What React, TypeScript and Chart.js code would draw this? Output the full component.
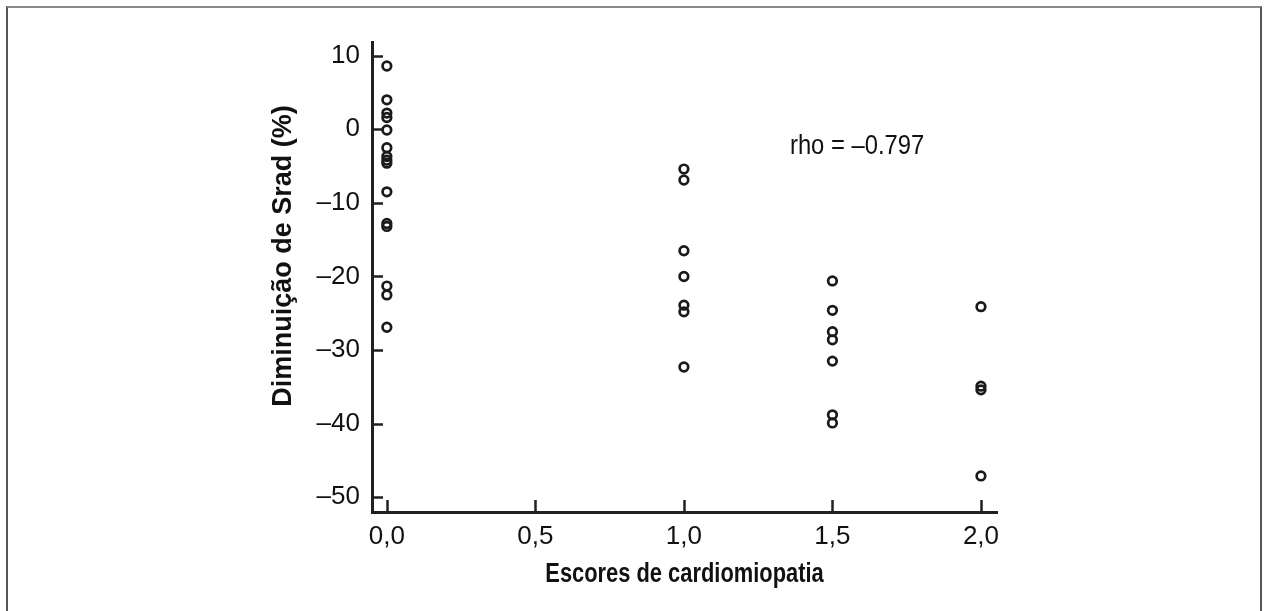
import React, { useEffect, useRef } from "react";
import { Chart, registerables } from "chart.js";

Chart.register(...registerables);

// ---- data ----
const categories = [0, 1, 1.5, 2];
const score00 = [8.6, 4.0, 2.2, 1.6, -0.1, -2.5, -3.7, -4.2, -4.6, -8.5, -12.8, -13.2, -21.3, -22.5, -26.9];
const score10 = [-5.4, -6.9, -16.5, -20.0, -23.9, -24.8, -32.3];
const score15 = [-20.6, -24.6, -27.5, -28.6, -31.5, -38.8, -39.9];
const score20 = [-24.1, -34.9, -35.4, -47.1];
const seriesValues = [score00, score10, score15, score20];

const xTicks = [0, 0.5, 1, 1.5, 2];
const xTickLabels = ["0,0", "0,5", "1,0", "1,5", "2,0"];
const yTicks = [10, 0, -10, -20, -30, -40, -50];
const yTickLabels = ["10", "0", "\u201310", "\u201320", "\u201330", "\u201340", "\u201350"];

const xTitle = "Escores de cardiomiopatia";
const yTitle = "Diminui\u00e7\u00e3o de Srad (%)";
const rhoText = "rho = \u20130.797";
const rhoPos = { x: 1.357, y: -2.3 };

const AXIS = "#231f20";
const SANS = "'Liberation Sans', Arial, Helvetica, sans-serif";

function condensedText(ctx: CanvasRenderingContext2D, text: string, x: number, y: number, sx: number, align: CanvasTextAlign) {
  ctx.save();
  ctx.translate(x, y);
  ctx.scale(sx, 1);
  ctx.textAlign = align;
  ctx.fillText(text, 0, 0);
  ctx.restore();
}

export default function App() {
  const ref = useRef<HTMLCanvasElement | null>(null);

  useEffect(() => {
    document.body.style.margin = "0";
    const canvas = ref.current;
    if (!canvas) return;

    const points: { x: number; y: number }[] = [];
    categories.forEach((c, i) => seriesValues[i].forEach((v) => points.push({ x: c, y: v })));

    const extras = {
      id: "extras",
      afterDraw(chart: any) {
        const { ctx, chartArea, scales } = chart;
        const x = scales.x;
        const y = scales.y;
        ctx.save();
        ctx.strokeStyle = AXIS;
        ctx.lineWidth = 2.5;
        yTicks.forEach((v) => {
          const py = Math.round(y.getPixelForValue(v)) + 0.5;
          ctx.beginPath();
          ctx.moveTo(chartArea.left, py);
          ctx.lineTo(chartArea.left + 11, py);
          ctx.stroke();
        });
        xTicks.forEach((v) => {
          const px = Math.round(x.getPixelForValue(v)) + 0.5;
          ctx.beginPath();
          ctx.moveTo(px, chartArea.bottom);
          ctx.lineTo(px, chartArea.bottom - 12);
          ctx.stroke();
        });
        ctx.fillStyle = "#111";
        ctx.textBaseline = "middle";
        ctx.font = `28px ${SANS}`;
        condensedText(ctx, rhoText, x.getPixelForValue(rhoPos.x), y.getPixelForValue(rhoPos.y), 0.85, "left");

        ctx.font = `bold 27px ${SANS}`;
        condensedText(ctx, xTitle, (chartArea.left + chartArea.right) / 2, 575, 0.81, "center");

        ctx.font = `bold 27px ${SANS}`;
        ctx.textAlign = "center";
        ctx.translate(284, 256);
        ctx.rotate(-Math.PI / 2);
        ctx.fillText(yTitle, 0, 0);
        ctx.restore();
      },
    };

    const chart = new Chart(canvas, {
      type: "scatter",
      data: {
        datasets: [
          {
            data: points,
            pointStyle: "circle",
            pointRadius: 4.3,
            pointHoverRadius: 4.3,
            pointBorderWidth: 2.7,
            borderColor: "#1a1a1a",
            backgroundColor: "rgba(0,0,0,0)",
          },
        ],
      },
      options: {
        animation: false,
        responsive: false,
        events: [],
        layout: { padding: { left: 0, right: 1264 - 997, top: 42, bottom: 0 } },
        plugins: { legend: { display: false }, tooltip: { enabled: false } },
        scales: {
          x: {
            type: "linear",
            min: -0.05,
            max: 2.054,
            grid: { display: false, drawTicks: false },
            border: { display: true, color: AXIS, width: 3 },
            afterBuildTicks: (s: any) => {
              s.ticks = xTicks.map((v) => ({ value: v }));
            },
            afterFit: (s: any) => {
              s.height = 611 - 512;
            },
            ticks: {
              padding: 9.5,
              color: "#111",
              maxRotation: 0,
              autoSkip: false,
              font: { family: SANS, size: 26 },
              callback: (v: any) => xTickLabels[xTicks.indexOf(Number(v))] ?? "",
            },
          },
          y: {
            type: "linear",
            min: -52,
            max: 11.86,
            grid: { display: false, drawTicks: false },
            border: { display: true, color: AXIS, width: 3 },
            afterBuildTicks: (s: any) => {
              s.ticks = yTicks.map((v) => ({ value: v }));
            },
            afterFit: (s: any) => {
              s.width = 372;
            },
            ticks: {
              padding: 12,
              color: "#111",
              autoSkip: false,
              font: { family: SANS, size: 26 },
              callback: (v: any) => yTickLabels[yTicks.indexOf(Number(v))] ?? "",
            },
          },
        },
      },
      plugins: [extras],
    } as any);

    return () => chart.destroy();
  }, []);

  return (
    <div style={{ position: "relative", width: 1264, height: 611, overflow: "hidden", background: "#fff" }}>
      <div
        style={{
          position: "absolute",
          left: 6,
          top: 6,
          width: 1252,
          height: 700,
          borderTop: "2px solid #8a8a8a",
          borderLeft: "2px solid #555",
          borderRight: "2px solid #555",
        }}
      />
      <canvas ref={ref} width={1264} height={611} style={{ position: "absolute", left: 0, top: 0 }} />
    </div>
  );
}
